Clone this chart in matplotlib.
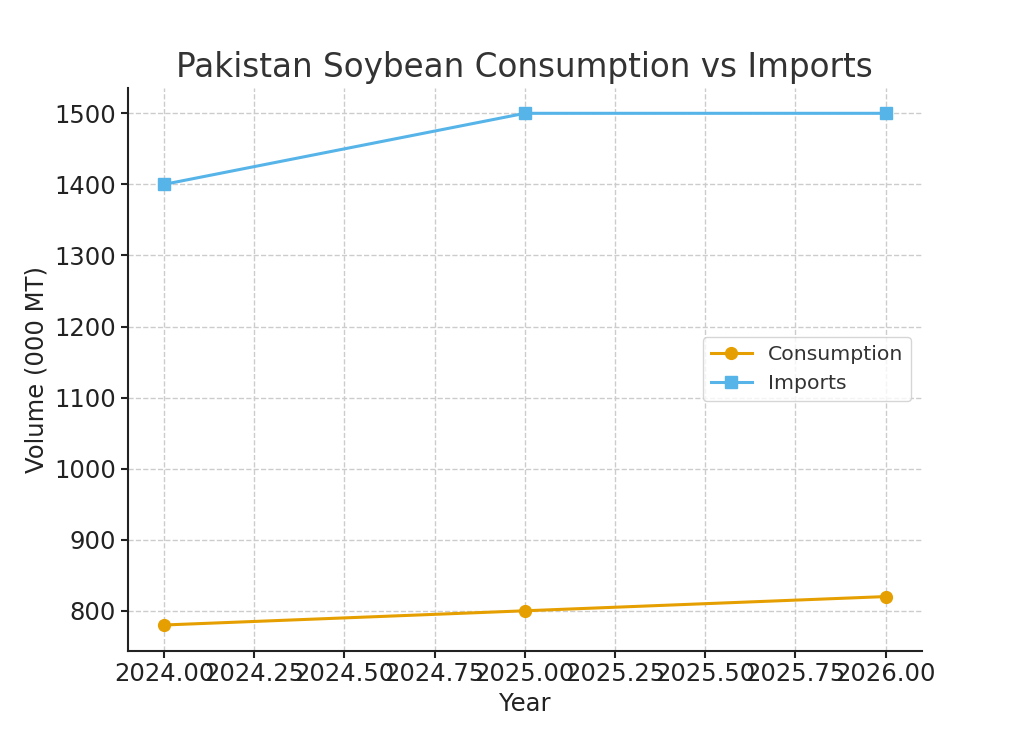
import matplotlib.pyplot as plt

years = [2024, 2025, 2026]
consumption = [780, 800, 820]
imports = [1400, 1500, 1500]

fig, ax = plt.subplots(figsize=(10.24, 7.31), dpi=100)
fig.subplots_adjust(left=0.125, right=0.9, bottom=0.11, top=0.88)

ax.plot(years, consumption, marker='o', markersize=8.5, linewidth=2.2,
        color='#E69F00', label='Consumption')
ax.plot(years, imports, marker='s', markersize=8.5, linewidth=2.2,
        color='#56B4E9', label='Imports')

ax.set_title('Pakistan Soybean Consumption vs Imports', fontsize=23.5,
             color='#333333', pad=8)
ax.set_xlabel('Year', fontsize=17.5, color='#222222')
ax.set_ylabel('Volume (000 MT)', fontsize=17.5, color='#222222')
ax.tick_params(labelsize=17.5, colors='#222222', width=1.5, length=5)
ax.grid(True, linestyle='--', color='#cccccc', linewidth=1)
for s in ['top', 'right']:
    ax.spines[s].set_visible(False)
for s in ['left', 'bottom']:
    ax.spines[s].set_linewidth(1.5)
    ax.spines[s].set_color('#222222')

leg = ax.legend(loc='center right', fontsize=14.7, labelcolor='#333333')
leg.get_frame().set_edgecolor('#cccccc')

plt.savefig('out.png', dpi=100)
